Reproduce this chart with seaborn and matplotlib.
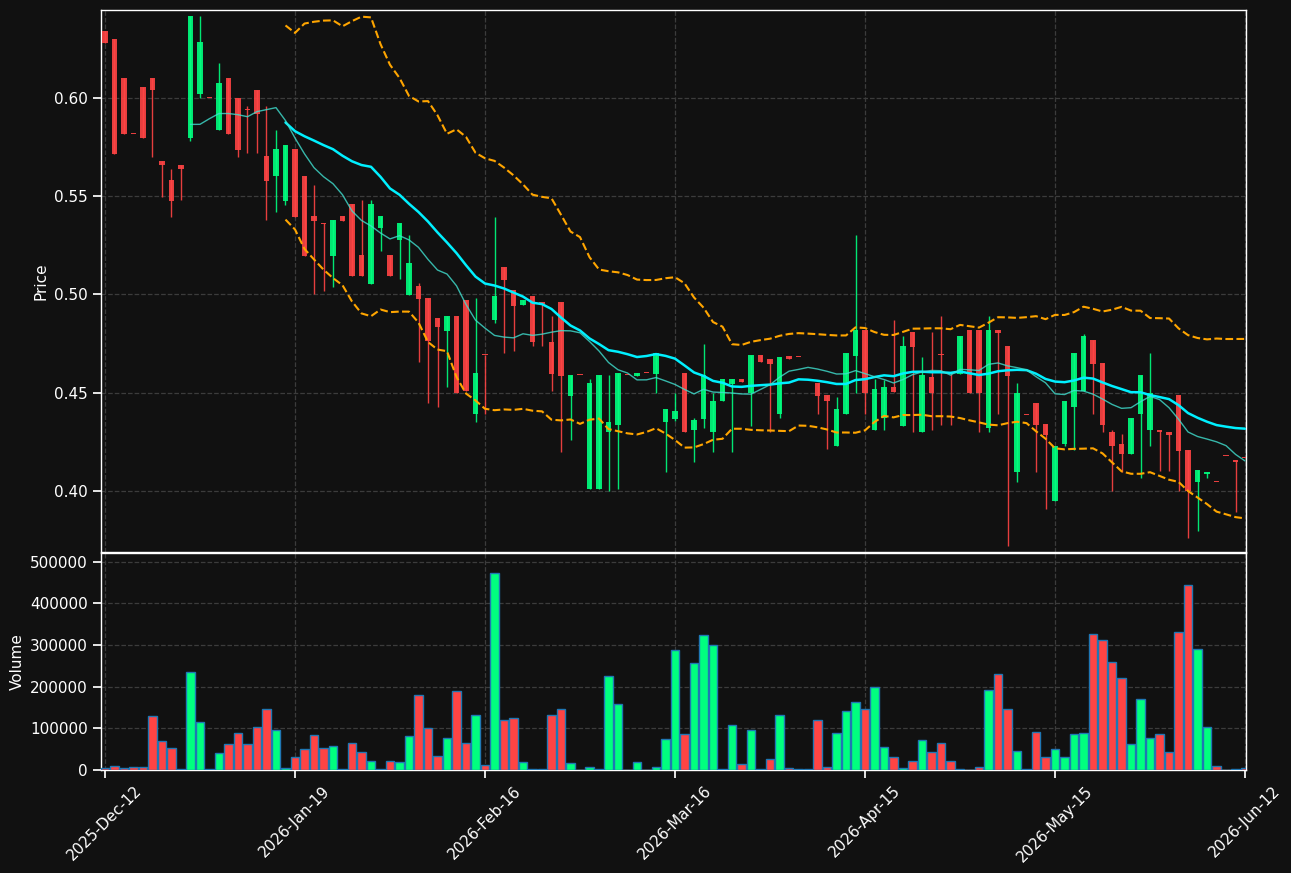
import numpy as np
import pandas as pd
import matplotlib
matplotlib.use("Agg")
import matplotlib.pyplot as plt
import seaborn as sns

# OHLC per trading bar (index 0..120)
opens = [0.6340, 0.6299, 0.6097, 0.5815, 0.6056, 0.6097, 0.5680, 0.5579, 0.5659, 0.5794,
         0.6017, 0.6000, 0.5835, 0.6097, 0.6000, 0.5937, 0.6040, 0.5702, 0.5599, 0.5475,
         0.5737, 0.5599, 0.5397, 0.5360, 0.5196, 0.5397, 0.5457, 0.5198, 0.5053, 0.5338,
         0.5198, 0.5276, 0.4998, 0.5042, 0.4980, 0.4879, 0.4815, 0.4890, 0.4971, 0.4393,
         0.4689, 0.4867, 0.5138, 0.5021, 0.4946, 0.4991, 0.4962, 0.4757, 0.4959, 0.4485,
         0.4590, 0.4009, 0.4009, 0.4298, 0.4338, 0.4590, 0.4587, 0.4600, 0.4597, 0.4353,
         0.4368, 0.4601, 0.4308, 0.4368, 0.4298, 0.4455, 0.4546, 0.4570, 0.4496, 0.4691,
         0.4670, 0.4393, 0.4684, 0.4680, 0.4563, 0.4551, 0.4489, 0.4227, 0.4393, 0.4688,
         0.4819, 0.4308, 0.4372, 0.4530, 0.4328, 0.4808, 0.4298, 0.4579, 0.4689, 0.4595,
         0.4595, 0.4819, 0.4819, 0.4319, 0.4819, 0.4737, 0.4095, 0.4386, 0.4448, 0.4342,
         0.3948, 0.4237, 0.4425, 0.4507, 0.4767, 0.4650, 0.4301, 0.4241, 0.4186, 0.4393,
         0.4308, 0.4312, 0.4301, 0.4489, 0.4209, 0.4044, 0.4085, 0.4046, 0.4177, 0.4157,
         0.4166]
highs = [0.6340, 0.6299, 0.6097, 0.5815, 0.6056, 0.6097, 0.5680, 0.5638, 0.5659, 0.6416,
         0.6416, 0.6000, 0.6177, 0.6097, 0.6000, 0.5955, 0.6040, 0.5955, 0.5837, 0.5757,
         0.5737, 0.5599, 0.5556, 0.5360, 0.5377, 0.5397, 0.5457, 0.5477, 0.5477, 0.5398,
         0.5198, 0.5361, 0.5299, 0.5056, 0.4980, 0.4879, 0.4890, 0.4890, 0.4971, 0.4980,
         0.4689, 0.5395, 0.5138, 0.5021, 0.4971, 0.4991, 0.4962, 0.4890, 0.4959, 0.4590,
         0.4590, 0.4569, 0.4590, 0.4590, 0.4601, 0.4590, 0.4601, 0.4600, 0.4702, 0.4419,
         0.4498, 0.4601, 0.4372, 0.4746, 0.4498, 0.4570, 0.4570, 0.4570, 0.4691, 0.4691,
         0.4670, 0.4680, 0.4684, 0.4680, 0.4563, 0.4551, 0.4489, 0.4477, 0.4702, 0.5299,
         0.4819, 0.4567, 0.4563, 0.4867, 0.4787, 0.4808, 0.4680, 0.4808, 0.4888, 0.4595,
         0.4789, 0.4819, 0.4819, 0.4888, 0.4819, 0.4737, 0.4548, 0.4386, 0.4448, 0.4342,
         0.4228, 0.4459, 0.4702, 0.4798, 0.4767, 0.4650, 0.4312, 0.4290, 0.4372, 0.4590,
         0.4702, 0.4312, 0.4301, 0.4489, 0.4209, 0.4108, 0.4097, 0.4046, 0.4177, 0.4157,
         0.4166]
lows = [0.6276, 0.5712, 0.5815, 0.5815, 0.5794, 0.5700, 0.5496, 0.5395, 0.5477, 0.5778,
        0.6000, 0.6000, 0.5835, 0.5815, 0.5700, 0.5716, 0.5716, 0.5376, 0.5416, 0.5455,
        0.5394, 0.5196, 0.5000, 0.5019, 0.5039, 0.5374, 0.5094, 0.5094, 0.5053, 0.5218,
        0.5094, 0.5076, 0.4998, 0.4657, 0.4445, 0.4425, 0.4528, 0.4496, 0.4507, 0.4351,
        0.4393, 0.4856, 0.4700, 0.4714, 0.4946, 0.4735, 0.4735, 0.4507, 0.4196, 0.4257,
        0.4590, 0.4009, 0.4009, 0.4000, 0.4009, 0.4590, 0.4587, 0.4600, 0.4498, 0.4095,
        0.4356, 0.4298, 0.4147, 0.4319, 0.4196, 0.4455, 0.4196, 0.4556, 0.4330, 0.4657,
        0.4298, 0.4372, 0.4670, 0.4680, 0.4563, 0.4393, 0.4216, 0.4227, 0.4393, 0.4498,
        0.4393, 0.4308, 0.4308, 0.4505, 0.4328, 0.4298, 0.4298, 0.4308, 0.4338, 0.4338,
        0.4595, 0.4496, 0.4298, 0.4298, 0.4393, 0.3718, 0.4046, 0.4386, 0.4095, 0.3909,
        0.3948, 0.4227, 0.4209, 0.4507, 0.4393, 0.4298, 0.4000, 0.4095, 0.4186, 0.4064,
        0.4227, 0.4104, 0.4104, 0.4000, 0.3759, 0.3798, 0.4064, 0.4046, 0.4177, 0.3895,
        0.4166]
closes = [0.6276, 0.5712, 0.5815, 0.5815, 0.5794, 0.6039, 0.5657, 0.5475, 0.5636, 0.6416,
          0.6280, 0.6000, 0.6076, 0.5815, 0.5734, 0.5937, 0.5916, 0.5576, 0.5737, 0.5757,
          0.5394, 0.5196, 0.5374, 0.5356, 0.5377, 0.5374, 0.5094, 0.5094, 0.5457, 0.5398,
          0.5094, 0.5361, 0.5159, 0.4977, 0.4764, 0.4835, 0.4890, 0.4496, 0.4507, 0.4601,
          0.4689, 0.4991, 0.5074, 0.4938, 0.4971, 0.4755, 0.4950, 0.4597, 0.4586, 0.4590,
          0.4590, 0.4551, 0.4590, 0.4353, 0.4601, 0.4590, 0.4601, 0.4600, 0.4702, 0.4419,
          0.4409, 0.4298, 0.4362, 0.4590, 0.4459, 0.4570, 0.4570, 0.4556, 0.4691, 0.4657,
          0.4648, 0.4680, 0.4670, 0.4680, 0.4563, 0.4485, 0.4455, 0.4418, 0.4702, 0.4819,
          0.4496, 0.4519, 0.4530, 0.4505, 0.4737, 0.4734, 0.4590, 0.4496, 0.4689, 0.4595,
          0.4789, 0.4496, 0.4496, 0.4819, 0.4805, 0.4586, 0.4500, 0.4386, 0.4338, 0.4287,
          0.4228, 0.4459, 0.4702, 0.4789, 0.4648, 0.4338, 0.4227, 0.4186, 0.4372, 0.4590,
          0.4498, 0.4298, 0.4287, 0.4205, 0.4000, 0.4108, 0.4097, 0.4046, 0.4177, 0.4145,
          0.4166]
volumes = [5600, 8800, 4000, 6400, 6400, 129200, 69000, 52200, 1600, 235200,
           114800, 1600, 40100, 61800, 89100, 61800, 102700, 146100, 95500, 5600,
           30500, 49800, 83500, 52200, 57000, 1600, 64200, 42500, 20900, 1600,
           20900, 18500, 81100, 179800, 100300, 32900, 76200, 189400, 65000, 131600,
           11200, 473500, 119600, 124400, 18500, 1600, 1600, 131600, 146100, 16100,
           0, 8000, 1600, 225500, 158100, 0, 18500, 0, 8000, 73800,
           288100, 85900, 256800, 324300, 300200, 1600, 107500, 13600, 95500, 1600,
           25700, 131600, 4000, 1600, 1600, 119600, 8000, 88300, 141300, 162900,
           146100, 199000, 54600, 30500, 5600, 20900, 71400, 42500, 64200, 20900,
           1600, 0, 6400, 191800, 230300, 146100, 44900, 1600, 90700, 30500,
           49800, 30500, 85900, 88300, 326700, 312200, 259200, 220700, 61800, 170200,
           76200, 85900, 42500, 331500, 444600, 290500, 102700, 8800, 0, 1600,
           4000]
tick_labels = ["2025-Dec-12", "2026-Jan-19", "2026-Feb-16", "2026-Mar-16",
               "2026-Apr-15", "2026-May-15", "2026-Jun-12"]
tick_step = 20

bg = "#111111"
up_color = "#00ff7f"
down_color = "#ff4444"

df = pd.DataFrame({"open": opens, "high": highs, "low": lows,
                   "close": closes, "volume": volumes})
df["idx"] = np.arange(len(df))
df["ma10"] = df["close"].rolling(10).mean()
df["ma20"] = df["close"].rolling(20).mean()
std20 = df["close"].rolling(20).std()
df["bb_up"] = df["ma20"] + 2 * std20
df["bb_lo"] = df["ma20"] - 2 * std20
up = df["close"] > df["open"]
colors = np.where(up, up_color, down_color)

sns.set_theme(style="darkgrid", rc={
    "axes.facecolor": bg, "figure.facecolor": bg,
    "axes.edgecolor": "white", "axes.labelcolor": "white",
    "xtick.color": "white", "ytick.color": "white",
    "text.color": "white", "grid.color": "#3c3c3c",
    "grid.linestyle": "--", "grid.linewidth": 0.9,
    "xtick.bottom": True, "ytick.left": True,
})
plt.rcParams["font.family"] = ["DejaVu Sans"]

W, H = 1291, 873
fig = plt.figure(figsize=(W / 100, H / 100), dpi=100)
ax = fig.add_axes([101 / W, 1 - 552 / H, 1145 / W, 542 / H])
axv = fig.add_axes([101 / W, 1 - 770 / H, 1145 / W, 217 / H], sharex=ax)

# candles
ax.vlines(df["idx"], df["low"], df["high"], colors=colors, lw=1, alpha=0.9, zorder=2)
body_lo = np.minimum(df["open"], df["close"])
body_h = np.maximum(np.abs(df["close"] - df["open"]), 0.0005)
ax.bar(df["idx"], body_h, bottom=body_lo, width=0.55, color=colors, alpha=0.9,
       linewidth=0, edgecolor="none", zorder=3)

# indicators
sns.lineplot(data=df, x="idx", y="ma20", ax=ax, color="#00f0ff", lw=1.8, zorder=4)
sns.lineplot(data=df, x="idx", y="ma10", ax=ax, color="#40e0d0", lw=1, alpha=0.8, zorder=4)
sns.lineplot(data=df, x="idx", y="bb_up", ax=ax, color="orange", lw=1.5, linestyle="--", zorder=4)
sns.lineplot(data=df, x="idx", y="bb_lo", ax=ax, color="orange", lw=1.5, linestyle="--", zorder=4)

ax.set_ylim(0.369, 0.6445)
ax.set_xlim(-0.42, 120.1)
ax.set_ylabel("Price", fontsize=11)
ax.set_xlabel("")
ax.set_yticks([0.40, 0.45, 0.50, 0.55, 0.60])
ax.set_yticklabels(["0.40", "0.45", "0.50", "0.55", "0.60"])
ax.tick_params(axis="x", labelbottom=False, bottom=False)

# volume
axv.bar(df["idx"], df["volume"], width=0.92, color=colors,
        edgecolor="#1f77b4", linewidth=1, zorder=3)
axv.set_ylim(0, df["volume"].max() * 1.1)
axv.set_yticks(range(0, 500001, 100000))
axv.set_yticklabels([str(v) for v in range(0, 500001, 100000)])
axv.set_ylabel("Volume", fontsize=11)
axv.set_xlabel("")
axv.set_xticks(range(0, len(df), tick_step))
axv.set_xticklabels(tick_labels, rotation=45)

for a in (ax, axv):
    for s in a.spines.values():
        s.set_color("white")
        s.set_linewidth(1)
    a.grid(True, linestyle="--", color="#3c3c3c")

fig.savefig("out.png", dpi=100, facecolor=bg)
